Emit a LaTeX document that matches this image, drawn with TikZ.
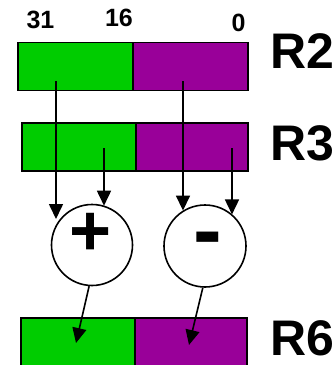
\documentclass[tikz,border=0pt]{standalone}
\usepackage{fontspec}
\setmainfont{Liberation Sans}
\usetikzlibrary{arrows.meta}

\definecolor{hiword}{HTML}{00CC00}
\definecolor{loword}{HTML}{990099}

\tikzstyle{field}=[shape=rectangle, draw, line width=1.6pt, minimum width=114pt, minimum height=48pt, inner sep=0pt]
\tikzstyle{hifield}=[field, fill=hiword]
\tikzstyle{lofield}=[field, fill=loword]
\tikzstyle{regname}=[anchor=west, inner sep=0pt, font=\fontsize{50}{50}\selectfont\bfseries]
\tikzstyle{bitpos}=[inner sep=0pt, font=\fontsize{25}{25}\selectfont\bfseries]
\tikzstyle{alu}=[shape=circle, draw, line width=1.6pt, fill=white, minimum size=81pt, inner sep=0pt]
\tikzstyle{opsign}=[anchor=base, inner sep=0pt, font=\fontsize{72}{72}\selectfont\bfseries]

\begin{document}
\begin{tikzpicture}[x=1pt, y=-1pt, >={Triangle[length=15pt,width=14pt]}, line width=1.6pt]
        \useasboundingbox (0,0) rectangle (336,365);
        % bit positions
        \node[bitpos] at (40.5,19.5) (b31) {31};
        \node[bitpos] at (119,17.5) (b16) {16};
        \node[bitpos] at (238.5,23) (b0) {0};
        % registers, upper and lower halves
        \node[hifield, minimum width=115pt] at (75.5,66.5) (r2hi) {};
        \node[lofield, minimum width=115pt] at (190.5,66.5) (r2lo) {};
        \node[hifield] at (79,147) (r3hi) {};
        \node[lofield, minimum width=112pt] at (192,147) (r3lo) {};
        \node[hifield] at (78,342) (r6hi) {};
        \node[lofield, minimum width=112pt] at (191,342) (r6lo) {};
        \node[regname] at (270,51) (r2) {R2};
        \node[regname] at (270,143) (r3) {R3};
        \node[regname] at (270,338) (r6) {R6};
        % adder and subtractor
        \node[alu] at (92,245) (add) {};
        \node[opsign] at (91,255) (plus) {+};
        \node[alu, minimum size=82pt] at (205,246) (sub) {};
        \node[opsign, font=\fontsize{86}{86}\selectfont\bfseries] at (208,259) (minus) {-};
        % taps into the register fields
        \coordinate (r2hitap) at (56,81);
        \coordinate (r3hitap) at (104,148);
        \coordinate (r2lotap) at (183,81);
        \coordinate (r3lotap) at (232,148);
        \coordinate (r6hitap) at (76,343);
        \coordinate (r6lotap) at (189,345);
        \draw [->] (r2hitap) -- (r2hitap |- add.141);
        \draw [->] (r3hitap) -- (r3hitap |- add.72);
        \draw [->] (r2lotap) -- (r2lotap |- sub.122);
        \draw [->] (r3lotap) -- (r3lotap |- sub.49);
        \draw [->] (add.-94) -- (r6hitap);
        \draw [->] (sub.-93) -- (r6lotap);
\end{tikzpicture}
\end{document}
